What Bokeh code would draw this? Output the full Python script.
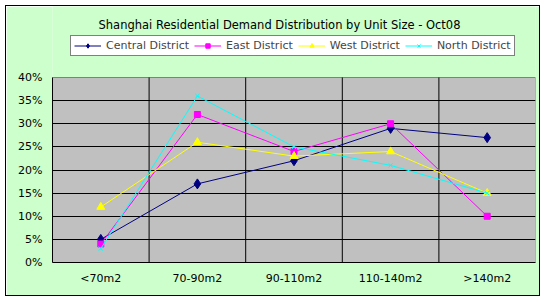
from bokeh.plotting import figure
from bokeh.models import (FixedTicker, NumeralTickFormatter, Legend, LegendItem,
                          Range1d, Label)
from bokeh.embed import file_html
from bokeh.resources import INLINE

categories = ["<70m2", "70-90m2", "90-110m2", "110-140m2", ">140m2"]
central = [0.05, 0.17, 0.22, 0.29, 0.27]
east = [0.04, 0.32, 0.24, 0.30, 0.10]
west = [0.12, 0.26, 0.23, 0.24, 0.15]
north = [0.03, 0.36, 0.25, 0.21, 0.15]
series_names = ["Central District", "East District", "West District", "North District"]
y_ticks = [0, 0.05, 0.10, 0.15, 0.20, 0.25, 0.30, 0.35, 0.40]
title_text = "Shanghai Residential Demand Distribution by Unit Size - Oct08"

FONT = "DejaVu Sans"
n = len(categories)
xs = [i + 0.5 for i in range(n)]
y_max = y_ticks[-1]

# frame spans the chart area; the grey plot area occupies its lower part
CANVAS_W, CANVAS_H = 535, 291
BORDER_L, BORDER_R, BORDER_B = 46, 6, 35
frame_h = CANVAS_H - BORDER_B
plot_top_px = 71  # top of grey plot area, px from canvas top
top_val = y_max * frame_h / (frame_h - plot_top_px)

p = figure(width=CANVAS_W, height=CANVAS_H, output_backend="svg", toolbar_location=None,
           x_range=Range1d(0, n), y_range=Range1d(0, top_val),
           min_border_left=BORDER_L, min_border_right=BORDER_R,
           min_border_top=0, min_border_bottom=BORDER_B,
           background_fill_color="#CCFFCC", border_fill_color="#CCFFCC")
p.styles = {"margin-left": "5px", "margin-top": "5px", "border": "1px solid black"}
p.outline_line_color = None

# grey plot area
p.quad(left=[0], right=[n], bottom=[0], top=[y_max], fill_color="#C0C0C0",
       line_color="#808080", line_width=1, level="image")

# axes
p.xaxis.ticker = FixedTicker(ticks=xs)
p.xaxis.major_label_overrides = {x: c for x, c in zip(xs, categories)}
p.yaxis.ticker = FixedTicker(ticks=y_ticks)
p.yaxis.bounds = (0, y_max)
p.yaxis.formatter = NumeralTickFormatter(format="0%")
for ax in (p.xaxis[0], p.yaxis[0]):
    ax.major_tick_line_color = None
    ax.minor_tick_line_color = None
    ax.major_tick_out = 0
    ax.major_tick_in = 0
    ax.minor_tick_out = 0
    ax.minor_tick_in = 0
    ax.axis_line_color = "black"
    ax.major_label_text_font = FONT
    ax.major_label_text_font_size = "11px"
    ax.major_label_text_color = "black"
p.xaxis.major_label_standoff = 9
p.yaxis.major_label_standoff = 10

p.xgrid.visible = False
p.ygrid.ticker = FixedTicker(ticks=y_ticks[1:-1])
p.ygrid.grid_line_color = "black"

# vertical category separators
sep = list(range(1, n))
p.segment(x0=sep, x1=sep, y0=[0] * len(sep), y1=[y_max] * len(sep),
          line_color="black", line_width=1)

styles = [
    (central, "#000080", "diamond", 10),
    (east, "#FF00FF", "square", 6),
    (west, "#FFFF00", "triangle", 8),
    (north, "#00FFFF", "x", 6),
]
items = []
for name, (vals, col, mk, sz) in zip(series_names, styles):
    ln = p.line(xs, vals, line_color=col, line_width=1)
    sc = p.scatter(xs, vals, marker=mk, size=sz, fill_color=col, line_color=col)
    items.append(LegendItem(label=name, renderers=[ln, sc]))

legend = Legend(items=items, orientation="horizontal", location=(18, 206),
                border_line_color="black", border_line_width=1,
                background_fill_color="white", background_fill_alpha=1,
                label_text_font=FONT, label_text_font_size="11px",
                glyph_width=27, glyph_height=11, label_height=11,
                label_standoff=5, spacing=5, padding=3, margin=0)
p.add_layout(legend, "center")

title = Label(x=227, y=frame_h - 18, x_units="screen", y_units="screen",
              text=title_text, text_font=FONT, text_font_size="11.5px",
              text_align="center", text_baseline="alphabetic", text_color="black")
p.add_layout(title)

open("out.html", "w").write(file_html(p, INLINE))
